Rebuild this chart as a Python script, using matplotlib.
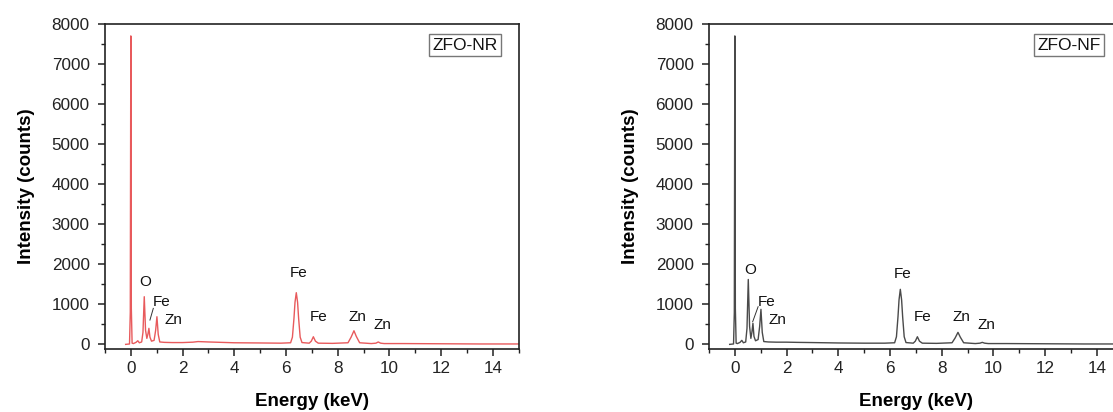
import matplotlib
matplotlib.use('Agg')

import matplotlib.pyplot as plt
from matplotlib.ticker import MultipleLocator

plt.rcParams['font.family'] = ['Liberation Sans', 'DejaVu Sans']

# EDS spectra (energy in keV, intensity in counts)
energy_nr = [-0.2, -0.05, -0.02, 0.0, 0.02, 0.05, 0.1, 0.2, 0.27, 0.33, 0.42, 0.47,
             0.52, 0.57, 0.62, 0.66, 0.70, 0.74, 0.8, 0.9, 0.96, 1.01, 1.06, 1.12,
             1.3, 1.6, 2.0, 2.4, 2.6, 3.0, 3.5, 4.0, 5.0, 5.8, 6.18, 6.25, 6.31, 6.35,
             6.40, 6.45, 6.49, 6.55, 6.62, 6.9, 6.98, 7.06, 7.14, 7.25, 7.8, 8.4,
             8.52, 8.63, 8.72, 8.85, 9.3, 9.48, 9.57, 9.66, 9.8, 10.5, 12.0, 13.5, 15.0]
counts_nr = [0, 10, 800, 7700, 900, 30, 20, 50, 90, 40, 60, 300,
             1190, 350, 150, 250, 400, 180, 80, 100, 350, 690, 250, 60,
             50, 45, 45, 55, 70, 60, 50, 40, 35, 30, 40, 180, 650, 1050,
             1290, 1050, 650, 180, 45, 30, 80, 190, 80, 30, 25, 40,
             180, 340, 200, 40, 20, 30, 60, 30, 20, 20, 15, 10, 10]

energy_nf = [-0.2, -0.05, -0.02, 0.0, 0.02, 0.05, 0.1, 0.2, 0.27, 0.33, 0.42, 0.47,
             0.52, 0.57, 0.62, 0.66, 0.70, 0.74, 0.8, 0.9, 0.96, 1.01, 1.06, 1.12,
             1.3, 1.6, 2.0, 2.4, 3.0, 3.5, 4.0, 5.0, 5.8, 6.18, 6.25, 6.31, 6.35,
             6.40, 6.45, 6.49, 6.55, 6.62, 6.9, 6.98, 7.06, 7.14, 7.25, 7.8, 8.4,
             8.52, 8.63, 8.72, 8.85, 9.3, 9.48, 9.57, 9.66, 9.8, 10.5, 12.0, 13.5, 15.0]
counts_nf = [0, 10, 800, 7700, 900, 30, 20, 50, 100, 40, 60, 400,
             1620, 450, 150, 300, 525, 200, 90, 120, 450, 874, 300, 70,
             60, 55, 55, 50, 45, 40, 35, 30, 30, 40, 190, 690, 1110,
             1374, 1110, 690, 190, 45, 30, 80, 190, 80, 30, 25, 40,
             160, 300, 180, 40, 20, 30, 50, 30, 20, 20, 15, 10, 10]

# peak labels: text, x, y
labels_nr = [('O', 0.57, 1560), ('Fe', 1.2, 1064), ('Zn', 1.65, 610),
             ('Fe', 6.5, 1780), ('Fe', 7.25, 690), ('Zn', 8.75, 690), ('Zn', 9.73, 480)]
labels_nf = [('O', 0.6, 1855), ('Fe', 1.22, 1065), ('Zn', 1.65, 610),
             ('Fe', 6.48, 1755), ('Fe', 7.25, 690), ('Zn', 8.75, 690), ('Zn', 9.73, 480)]
leader_nr = ([0.74, 0.87], [607, 899])
leader_nf = ([0.69, 0.9], [565, 940])

panels = [
    (energy_nr, counts_nr, labels_nr, leader_nr, '#e85a5c', 'ZFO-NR', 0.0943),
    (energy_nf, counts_nf, labels_nf, leader_nf, '#4a4a4a', 'ZFO-NF', 0.637),
]

fig = plt.figure(figsize=(11.13, 4.12), dpi=100)

for ex, cy, labs, lead, col, name, left in panels:
    ax = fig.add_axes([left, 0.152, 0.3717, 0.79])
    ax.plot(ex, cy, color=col, lw=1.0)
    ax.plot(lead[0], lead[1], color='#333333', lw=0.7)
    for t, x, y in labs:
        ax.text(x, y, t, ha='center', va='center', fontsize=11, color='#111111')
    ax.set_xlim(-1, 15)
    ax.set_ylim(-125, 8000)
    ax.xaxis.set_major_locator(MultipleLocator(2))
    ax.xaxis.set_minor_locator(MultipleLocator(1))
    ax.yaxis.set_major_locator(MultipleLocator(1000))
    ax.yaxis.set_minor_locator(MultipleLocator(500))
    ax.tick_params(which='major', direction='out', length=5, width=1.1, labelsize=12.3,
                   colors='#222222')
    ax.tick_params(axis='y', which='major', pad=6)
    ax.tick_params(which='minor', direction='out', length=3, width=1.0, colors='#222222')
    for s in ax.spines.values():
        s.set_linewidth(1.2)
        s.set_color('#222222')
    ax.set_xlabel('Energy (keV)', fontsize=13.5, fontweight='bold', labelpad=12)
    ax.set_ylabel('Intensity (counts)', fontsize=13.5, fontweight='bold', labelpad=12)
    ax.text(0.871, 0.935, name, transform=ax.transAxes, ha='center', va='center',
            fontsize=12.5, color='#111111',
            bbox=dict(boxstyle='square,pad=0.2', fc='white', ec='#777777', lw=1.0))

fig.savefig('out.png', dpi=100)
